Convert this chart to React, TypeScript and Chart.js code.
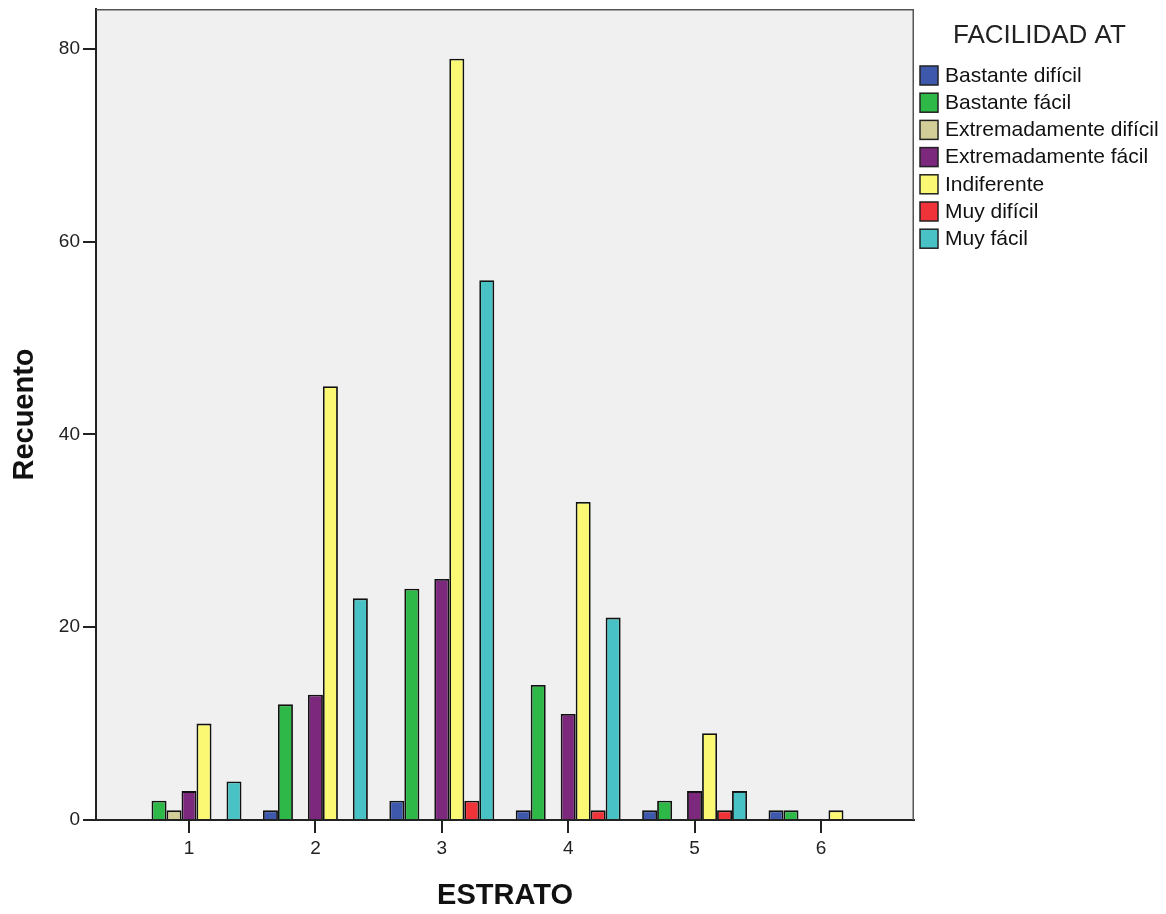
import React, { useEffect, useRef } from "react";
import { Chart, registerables } from "chart.js";

Chart.register(...registerables);

// ---- Data ----
const categories = [1, 2, 3, 4, 5, 6];
const yTickValues = [0, 20, 40, 60, 80];
const seriesNames = [
  "Bastante difícil",
  "Bastante fácil",
  "Extremadamente difícil",
  "Extremadamente fácil",
  "Indiferente",
  "Muy difícil",
  "Muy fácil",
];
const bastanteDificil = [null, 1, 2, 1, 1, 1];
const bastanteFacil = [2, 12, 24, 14, 2, 1];
const extremadamenteDificil = [1, null, null, null, null, null];
const extremadamenteFacil = [3, 13, 25, 11, 3, null];
const indiferente = [10, 45, 79, 33, 9, 1];
const muyDificil = [null, null, 2, 1, 1, null];
const muyFacil = [4, 23, 56, 21, 3, null];
const seriesColors = ["#3E58AC", "#2EB848", "#D3CE97", "#7C287D", "#FBF873", "#EF3338", "#48C2C5"];
const legendTitle = "FACILIDAD AT";
const xTitle = "ESTRATO";
const yTitle = "Recuento";

const allSeries = [
  bastanteDificil,
  bastanteFacil,
  extremadamenteDificil,
  extremadamenteFacil,
  indiferente,
  muyDificil,
  muyFacil,
];

const W = 1150;
const H = 898;
const FONT = "Arial, 'Liberation Sans', sans-serif";

const decorPlugin = {
  id: "decor",
  beforeDraw(chart: any) {
    const { ctx, chartArea: a } = chart;
    ctx.save();
    ctx.fillStyle = "#F0F0F0";
    ctx.fillRect(a.left, a.top, a.right - a.left, a.bottom - a.top);
    ctx.restore();
  },
  afterDraw(chart: any) {
    const { ctx, chartArea: a } = chart;
    ctx.save();
    // frame top & right
    ctx.strokeStyle = "#555";
    ctx.lineWidth = 1.5;
    ctx.beginPath();
    ctx.moveTo(a.left, a.top + 0.75);
    ctx.lineTo(a.right - 0.75, a.top + 0.75);
    ctx.lineTo(a.right - 0.75, a.bottom);
    ctx.stroke();

    // axis titles
    ctx.fillStyle = "#111";
    ctx.font = `bold 29px ${FONT}`;
    ctx.textAlign = "center";
    ctx.textBaseline = "alphabetic";
    ctx.fillText(xTitle, (a.left + a.right) / 2, 896);

    ctx.save();
    ctx.translate(25, (a.top + a.bottom) / 2);
    ctx.rotate(-Math.PI / 2);
    ctx.font = `bold 29px ${FONT}`;
    ctx.fillText(yTitle, 0, 0);
    ctx.restore();

    // legend
    ctx.textAlign = "left";
    ctx.font = `26px ${FONT}`;
    ctx.fillStyle = "#222";
    ctx.textBaseline = "middle";
    ctx.fillText(legendTitle, 945, 28);
    ctx.font = `21px ${FONT}`;
    seriesNames.forEach((name, i) => {
      const y = 58 + i * 27.2;
      ctx.fillStyle = seriesColors[i];
      ctx.fillRect(912, y, 18, 19);
      ctx.strokeStyle = "#222";
      ctx.lineWidth = 1.5;
      ctx.strokeRect(912, y, 18, 19);
      ctx.fillStyle = "#111";
      ctx.fillText(name, 937, y + 10);
    });
    ctx.restore();
  },
};

export default function App() {
  const ref = useRef<HTMLCanvasElement | null>(null);
  useEffect(() => {
    if (!ref.current) return;
    const chart = new Chart(ref.current, {
      type: "bar",
      data: {
        datasets: allSeries.map((s, i) => ({
          label: seriesNames[i],
          data: categories.map((c, j) => ({ x: c, y: s[j] })),
          backgroundColor: seriesColors[i],
          borderColor: "#111",
          borderWidth: 1.8,
          categoryPercentage: 0.83,
          barPercentage: 1,
        })),
      } as any,
      options: {
        animation: false,
        responsive: false,
        maintainAspectRatio: false,
        layout: { padding: { top: 1, right: 244, left: 0, bottom: 0 } },
        plugins: { legend: { display: false }, tooltip: { enabled: false } },
        scales: {
          x: {
            type: "linear",
            min: 0.264,
            max: 6.736,
            offset: false,
            afterBuildTicks: (s: any) => {
              s.ticks = categories.map((v) => ({ value: v }));
            },
            afterFit: (s: any) => {
              s.height = 86;
              s.paddingLeft = 0;
              s.paddingRight = 0;
              s.paddingTop = 0;
              s.paddingBottom = 0;
            },
            grid: { offset: false, drawOnChartArea: false, drawTicks: true, tickLength: 13, color: "#222", lineWidth: 2 },
            border: { display: true, color: "#222", width: 2 },
            ticks: { font: { family: FONT, size: 19 }, color: "#222", padding: 4, callback: (v: any) => String(v) },
          },
          y: {
            min: 0,
            max: 84.15,
            afterBuildTicks: (s: any) => {
              s.ticks = yTickValues.map((v) => ({ value: v }));
            },
            afterFit: (s: any) => {
              s.width = 88;
              s.paddingLeft = 0;
              s.paddingRight = 0;
              s.paddingTop = 0;
              s.paddingBottom = 0;
            },
            grid: { drawOnChartArea: false, drawTicks: true, tickLength: 13, color: "#222", lineWidth: 2 },
            border: { display: true, color: "#222", width: 2 },
            ticks: { font: { family: FONT, size: 19 }, color: "#222", padding: 3, callback: (v: any) => String(v) },
          },
        },
      } as any,
      plugins: [decorPlugin],
    });
    return () => chart.destroy();
  }, []);
  return (
    <div style={{ width: W, height: H }}>
      <canvas ref={ref} width={W} height={H} style={{ display: "block", width: W, height: H }} />
    </div>
  );
}
